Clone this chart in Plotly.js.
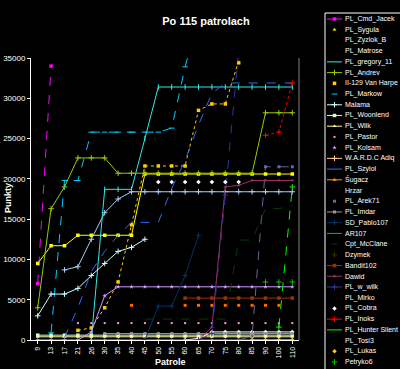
<!DOCTYPE html>
<html><head><meta charset="utf-8">
<script src="https://cdn.plot.ly/plotly-3.0.1.min.js"></script>
<style>html,body{margin:0;padding:0;background:#000;} #chart{width:400px;height:369px;}</style>
</head><body><div id="chart"></div>
<script>
const N = null;
const patrols = ["9","13","17","21","26","30","35","40","45","50","55","60","65","70","75","80","85","90","100","110"];

const cmdJacek  = [7000,34000,N,N,N,N,N,N,N,N,N,N,N,N,N,N,N,N,N,N];
const sygula    = [9500,11700,11700,13000,13000,13000,13000,13000,20600,20600,20600,20600,20600,20600,20600,20600,20600,20600,20600,20600];
const zyzlokB   = [N,N,8700,9100,12500,15800,17500,18400,18400,18400,18400,18400,18400,18400,18400,18400,18400,18400,18400,18400];
const matrose   = [N,N,N,N,N,N,N,N,N,N,N,0,200,1000,1000,1000,1000,1000,1000,1000];
const gregory11 = [N,N,N,N,0,18700,18700,18700,25000,31400,31400,31400,31400,31400,31400,31400,31400,31400,31400,31400];
const andrev    = [4000,16300,19000,22600,22600,22600,20700,20700,20700,20700,20700,20700,20700,20700,20700,20700,20700,28200,28200,28200];
const vanHarpe  = [N,N,N,1200,1500,4000,7200,14300,21600,21600,21600,21600,28500,29300,29300,34400,40000,N,N,N];
const markow    = [N,900,19800,19800,25800,25800,25800,25800,25800,25800,26300,33900,40000,N,N,N,N,N,N,N];
const malama    = [3000,5700,5700,6400,8000,9500,11000,11500,12500,N,N,N,N,N,N,N,N,N,N,N];
const woonlend  = [600,600,600,600,600,600,600,600,600,600,600,600,600,600,600,600,600,600,600,600];
const wilk      = [400,400,400,400,400,400,400,400,400,400,400,400,400,400,400,400,400,400,400,400];
const pastor    = [N,N,N,2100,2100,2100,2100,2100,2100,2100,2100,2100,2100,2100,2100,2100,2100,2100,2100,2100];
const kolsam    = [0,0,0,0,1000,5500,6600,6600,6600,6600,6600,6600,6600,6600,6600,6600,6600,6600,6600,6600];
const wardc     = [N,N,N,N,N,N,N,N,N,N,N,N,N,N,N,N,N,N,N,N];
const szylol    = [N,N,300,4000,8500,11000,13000,14600,14600,14600,18800,22300,26700,30600,31900,31900,31900,31900,31900,31900];
const sugacz    = [N,N,N,N,0,0,0,0,0,0,0,0,0,0,0,0,0,0,0,0];
const hrzar     = [N,N,N,N,N,N,N,4300,N,N,N,4300,4300,4300,4300,4300,4300,4300,4300,N];
const arek71    = [N,N,N,N,N,N,N,N,N,N,N,N,N,N,N,0,500,21500,21500,21500];
const imdar     = [N,N,N,N,N,800,800,800,800,800,800,800,800,800,800,800,800,800,800,800];
const sdPablo   = [N,N,N,N,N,N,N,N,0,4200,4200,8000,13000,N,N,N,N,N,N,N];
const ar107     = [N,N,N,N,N,N,N,N,N,N,N,N,N,N,N,N,N,N,N,N];
const mcclane   = [N,N,N,N,N,N,N,N,2600,2600,2600,2600,2600,2600,2600,12400,12400,16300,16300,16700];
const dzymek    = [N,N,N,N,N,N,N,N,N,N,N,N,N,N,N,N,N,N,N,N];
const bandit    = [N,N,N,N,N,N,N,N,N,N,N,5200,5200,5200,5200,5200,5200,5200,5200,5200];
const dawid     = [N,N,N,N,N,N,N,N,N,N,N,N,0,1600,19000,19200,19800,19800,19800,19800];
const wWilk     = [N,N,N,N,N,N,N,N,N,N,N,N,0,800,18000,36000,N,N,N,N];
const mirko     = [N,N,N,N,N,N,N,N,N,N,N,N,N,N,N,N,N,N,N,N];
const cobra     = [N,N,N,N,N,N,N,N,N,19600,19600,19600,19600,19600,19600,19600,N,N,N,N];
const inoks     = [N,N,N,N,N,N,N,N,N,N,N,N,N,N,N,N,N,25400,25800,31900];
const hunter    = [N,N,N,N,N,N,N,N,N,N,N,N,N,N,N,N,N,N,1600,19000];
const tosi3     = [N,N,N,N,N,N,N,N,N,N,N,N,N,N,N,N,N,N,N,N];
const lukas     = [N,N,N,N,N,N,N,N,N,N,N,N,N,N,N,N,0,0,0,0];
const petryko6  = [N,N,N,N,N,N,N,N,N,N,N,N,N,N,N,N,N,7200,7200,7200];

const series = [
 {name:'PL_Cmd_Jacek', y:cmdJacek, color:'#FF00FF', mode:'lines+markers', symbol:'square', dash:'dash'},
 {name:'PL_Sygula', y:sygula, color:'#FFFF00', mode:'lines+markers', symbol:'square', sampleMode:'markers', sampleSymbol:'triangle-up'},
 {name:'PL_Zyzlok_B', y:zyzlokB, color:'#A8CCF8', mode:'lines+markers', symbol:'cross-thin', hide:true},
 {name:'PL_Matrose', y:matrose, color:'#FFFFFF', mode:'lines+markers', symbol:'diamond', hide:true},
 {name:'PL_gregory_11', y:gregory11, color:'#33E8E8', mode:'lines+markers', symbol:'line-ns', sampleMode:'lines'},
 {name:'PL_Andrev', y:andrev, color:'#99CC00', mode:'lines+markers', symbol:'cross-thin'},
 {name:'II-129 Van Harpe', y:vanHarpe, color:'#FFCC00', mode:'lines+markers', symbol:'square', dash:'dot', sampleMode:'markers'},
 {name:'PL_Markow', y:markow, color:'#00CCFF', mode:'lines+markers', symbol:'line-ew', dash:'dash', sampleMode:'markers'},
 {name:'Malama', y:malama, color:'#CCFFFF', mode:'lines+markers', symbol:'cross-thin'},
 {name:'PL_Woonlend', y:woonlend, color:'#CCFFCC', mode:'lines+markers', symbol:'square'},
 {name:'PL_Wilk', y:wilk, color:'#FFFF99', mode:'lines+markers', symbol:'triangle-up'},
 {name:'PL_Pastor', y:pastor, color:'#FF99CC', mode:'markers', symbol:'square', size:2},
 {name:'PL_Kolsam', y:kolsam, color:'#CC99FF', mode:'lines+markers', symbol:'star', sampleMode:'markers'},
 {name:'W.A.R.D.C Adiq', y:wardc, color:'#FFCC99', mode:'lines+markers', symbol:'cross-thin'},
 {name:'PL_Szylol', y:szylol, color:'#3366FF', mode:'lines', dash:'dash'},
 {name:'Śugacz', y:sugacz, color:'#FF9900', mode:'lines+markers', symbol:'triangle-up'},
 {name:'Hrzar', y:hrzar, color:'#FF6600', mode:'markers', symbol:'square', size:3, hide:true},
 {name:'PL_Arek71', y:arek71, color:'#666699', mode:'lines+markers', symbol:'square', dash:'dash', size:3, sampleMode:'markers'},
 {name:'PL_Imdar', y:imdar, color:'#969696', mode:'lines+markers', symbol:'square', size:3},
 {name:'SD_Pablo107', y:sdPablo, color:'#003366', mode:'lines+markers', symbol:'cross-thin'},
 {name:'AR107', y:ar107, color:'#339966', mode:'lines'},
 {name:'Cpt_McClane', y:mcclane, color:'#0A3A0A', mode:'lines', dash:'dash', sampleMode:'markers', sampleSymbol:'line-ew'},
 {name:'Dzymek', y:dzymek, color:'#333300', mode:'markers', symbol:'cross-thin'},
 {name:'Bandit102', y:bandit, color:'#993300', mode:'lines+markers', symbol:'square'},
 {name:'Dawid', y:dawid, color:'#993366', mode:'lines+markers', symbol:'triangle-up'},
 {name:'PL_w_wilk', y:wWilk, color:'#333399', mode:'lines+markers', symbol:'cross-thin', dash:'dash'},
 {name:'PL_Mirko', y:mirko, color:'#333333', mode:'lines', hide:true},
 {name:'PL_Cobra', y:cobra, color:'#FFFFFF', mode:'markers', symbol:'diamond'},
 {name:'PL_Inoks', y:inoks, color:'#FF0000', mode:'lines+markers', symbol:'cross-thin', dash:'dot'},
 {name:'PL_Hunter Silent', y:hunter, color:'#00FF00', mode:'lines+markers', symbol:'cross-thin', dash:'dash', sampleMode:'lines'},
 {name:'PL_Tosi3', y:tosi3, color:'#222222', mode:'lines', hide:true},
 {name:'PL_Lukas', y:lukas, color:'#FFCC00', mode:'lines+markers', symbol:'diamond', sampleMode:'markers'},
 {name:'Petryko6', y:petryko6, color:'#00CC00', mode:'markers', symbol:'cross-thin'}
];

function markerFor(s, sym){
  const symbol = sym || s.symbol || 'circle';
  const thin = /thin|line-/.test(symbol);
  return {symbol:symbol, size:s.size || (thin ? 4 : 3.5), color:s.color,
          line:{color:s.color, width: thin ? 1 : 0}};
}

const traces = [];
series.forEach(s => {
  traces.push({
    type:'scatter', x:patrols, y:s.y, name:s.name, mode:s.mode,
    line:{color:s.color, width:1, dash:s.dash || 'solid'},
    marker:markerFor(s), connectgaps:false, hoverinfo:'name+y'
  });
});

// legend (drawn in a pixel-space overlay axis)
const LEG_TOP = 19, LEG_STEP = 10.72;
const legendAnn = [];
series.forEach((s, k) => {
  const yp = LEG_TOP + k * LEG_STEP;
  legendAnn.push({text:s.name, xref:'paper', yref:'paper', x:343/400, y:(369 - yp)/369,
    xanchor:'left', yanchor:'middle', showarrow:false, font:{size:7, color:'#ffffff'}});
  if (s.hide) return;
  const m = s.sampleMode || s.mode;
  if (m.includes('lines')) {
    traces.push({type:'scatter', x:[327,342], y:[yp,yp], xaxis:'x2', yaxis:'y2', mode:'lines',
      line:{color:s.color, width:1}, hoverinfo:'skip'});
  }
  if (m.includes('markers')) {
    traces.push({type:'scatter', x:[334.5], y:[yp], xaxis:'x2', yaxis:'y2', mode:'markers',
      marker:markerFor(s, s.sampleSymbol), hoverinfo:'skip', cliponaxis:false});
  }
});

const layout = {
  width:400, height:369,
  paper_bgcolor:'#000', plot_bgcolor:'rgba(0,0,0,0)',
  margin:{l:0, r:0, t:0, b:0},
  showlegend:false,
  font:{family:'Liberation Sans, Arial, sans-serif', color:'#ffffff', size:8},
  title:{text:'<b>Po 115 patrolach</b>', font:{size:11, color:'#ffffff'},
         x:206/400, xref:'container', y:1 - 21/369, yref:'container', xanchor:'center', yanchor:'middle'},
  xaxis:{domain:[31/400, 299/400], type:'category', range:[-0.5, 19.5], anchor:'y',
         showline:true, linecolor:'#ffffff', linewidth:1, ticks:'outside', ticklen:3, tickcolor:'#ffffff',
         tickangle:-90, tickfont:{size:7, color:'#ffffff'}, showgrid:false, zeroline:false, fixedrange:true},
  yaxis:{domain:[29/369, 311/369], range:[0, 35000], dtick:5000, tick0:0, tickformat:'d', anchor:'x',
         showline:true, linecolor:'#ffffff', linewidth:1, ticks:'outside', ticklen:3, tickcolor:'#ffffff',
         tickfont:{size:8, color:'#ffffff'}, showgrid:false, zeroline:false, fixedrange:true},
  xaxis2:{domain:[0,1], range:[0,400], visible:false, anchor:'y2', fixedrange:true},
  yaxis2:{domain:[0,1], range:[369,0], visible:false, anchor:'x2', fixedrange:true},
  shapes:[
    {type:'rect', xref:'paper', yref:'paper', x0:325/400, x1:403/400, y0:-5/369, y1:(369-13)/369,
     line:{color:'#ffffff', width:1}, fillcolor:'#000000', layer:'below'},
    {type:'line', xref:'paper', yref:'paper', x0:299/400, x1:299/400, y0:29/369, y1:311/369,
     line:{color:'#808080', width:1}}
  ],
  annotations:[
    {text:'<b>Punkty</b>', xref:'paper', yref:'paper', x:8/400, y:(369-198)/369, textangle:-90,
     showarrow:false, xanchor:'center', yanchor:'middle', font:{size:9, color:'#ffffff'}},
    {text:'<b>Patrole</b>', xref:'paper', yref:'paper', x:170/400, y:(369-362)/369,
     showarrow:false, xanchor:'center', yanchor:'middle', font:{size:9, color:'#ffffff'}}
  ].concat(legendAnn)
};

Plotly.newPlot('chart', traces, layout, {staticPlot:true, displayModeBar:false});
</script></body></html>
